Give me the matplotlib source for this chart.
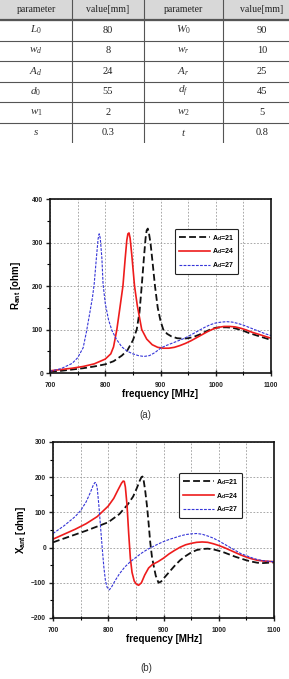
import matplotlib
matplotlib.use('Agg')
import matplotlib.pyplot as plt
from matplotlib.ticker import MultipleLocator

plt.rcParams['font.family'] = ['Liberation Sans', 'DejaVu Sans']
plt.rcParams['mathtext.fontset'] = 'custom'
plt.rcParams['mathtext.rm'] = 'Liberation Serif'
plt.rcParams['mathtext.it'] = 'Liberation Serif:italic'
plt.rcParams['mathtext.bf'] = 'Liberation Sans:bold'

# --- table data ---
header = ['parameter', 'value[mm]', 'parameter', 'value[mm]']
params_left = [r'$L_0$', r'$w_d$', r'$A_d$', r'$d_0$', r'$w_1$', r'$s$']
values_left = ['80', '8', '24', '55', '2', '0.3']
params_right = [r'$W_0$', r'$w_r$', r'$A_r$', r'$d_f$', r'$w_2$', r'$t$']
values_right = ['90', '10', '25', '45', '5', '0.8']

# --- (a) resistance ---
f_r21 = [700, 720, 740, 760, 780, 800, 815, 830, 840, 850, 857, 862, 866, 870, 873, 875, 877,
         879, 882, 886, 890, 895, 900, 905, 912, 920, 930, 940, 950, 960, 970, 980, 990, 1000,
         1010, 1020, 1030, 1040, 1050, 1060, 1070, 1080, 1090, 1100]
r21 = [3, 5, 8, 11, 15, 20, 27, 40, 52, 75, 100, 140, 200, 265, 310, 328, 332,
       322, 298, 250, 200, 150, 120, 100, 90, 84, 80, 79, 80, 83, 88, 94, 100, 104,
       105, 105, 104, 101, 97, 92, 88, 84, 80, 76]

f_r24 = [700, 720, 740, 760, 780, 800, 810, 815, 821, 826, 832, 836, 839, 841, 843, 845, 848,
         853, 858, 866, 875, 885, 895, 905, 915, 925, 935, 945, 955, 965, 975, 985, 995, 1005,
         1015, 1025, 1035, 1045, 1055, 1065, 1075, 1085, 1095, 1100]
r24 = [5, 8, 11, 15, 21, 32, 44, 60, 100, 145, 200, 262, 305, 320, 322, 310, 272,
       200, 155, 100, 78, 65, 59, 57, 57, 59, 63, 68, 74, 81, 88, 95, 101, 105,
       107, 107, 106, 103, 99, 94, 90, 86, 82, 80]

f_r27 = [700, 720, 740, 750, 760, 766, 772, 777, 780, 784, 787, 789, 791, 794, 796, 800, 806,
         812, 820, 830, 840, 850, 860, 870, 880, 890, 900, 910, 920, 930, 940, 950, 960, 970,
         980, 990, 1000, 1010, 1020, 1030, 1040, 1050, 1060, 1070, 1080, 1090, 1100]
r27 = [4, 10, 22, 35, 58, 95, 138, 175, 205, 265, 308, 320, 310, 262, 205, 160, 122,
       98, 78, 60, 50, 44, 40, 38, 40, 47, 57, 63, 68, 73, 78, 84, 91, 98,
       105, 111, 115, 117, 118, 117, 114, 110, 105, 100, 95, 90, 86]

# --- (b) reactance ---
f_x21 = [700, 720, 740, 760, 780, 800, 820, 835, 845, 852, 857, 860, 862, 864, 867, 870, 873,
         876, 879, 882, 886, 891, 896, 900, 910, 920, 930, 940, 950, 960, 970, 980, 990, 1000,
         1010, 1020, 1030, 1040, 1050, 1060, 1070, 1080, 1090, 1100]
x21 = [15, 26, 37, 48, 60, 72, 95, 122, 145, 170, 190, 200, 202, 192, 160, 120, 70,
       15, -25, -50, -80, -100, -96, -88, -70, -52, -36, -24, -14, -7, -4, -3, -5, -9,
       -14, -20, -26, -31, -36, -40, -43, -44, -43, -42]

f_x24 = [700, 720, 740, 760, 780, 800, 810, 818, 824, 827, 829, 831, 834, 837, 840, 843, 847,
         851, 855, 860, 866, 873, 880, 890, 900, 910, 920, 930, 940, 950, 960, 970, 980, 990,
         1000, 1010, 1020, 1030, 1040, 1050, 1060, 1070, 1080, 1090, 1100]
x24 = [24, 38, 52, 68, 88, 118, 140, 165, 183, 189, 188, 172, 120, 40, -30, -70, -95,
       -104, -107, -100, -78, -58, -48, -40, -30, -18, -8, 1, 8, 12, 15, 16, 15, 11,
       6, 0, -7, -14, -21, -27, -32, -36, -38, -39, -40]

f_x27 = [700, 720, 740, 750, 760, 768, 773, 776, 778, 780, 783, 786, 789, 792, 795, 798, 802,
         806, 812, 820, 830, 840, 850, 860, 870, 880, 890, 900, 910, 920, 930, 940, 950, 960,
         970, 980, 990, 1000, 1010, 1020, 1030, 1040, 1050, 1060, 1070, 1080, 1090, 1100]
x27 = [40, 62, 88, 105, 130, 158, 178, 185, 184, 170, 120, 60, 0, -55, -95, -113, -120,
       -112, -95, -75, -55, -40, -28, -16, -6, 2, 10, 17, 23, 28, 33, 37, 39, 40,
       38, 33, 27, 19, 10, 1, -8, -17, -23, -29, -34, -37, -39, -40]

labels = [r'A$_\mathbf{d}$=21', r'A$_\mathbf{d}$=24', r'A$_\mathbf{d}$=27']
styles = [dict(color='#111111', lw=1.3, ls=(0, (3.8, 1.8))),
          dict(color='#ee1c1c', lw=1.2, ls='-'),
          dict(color='#3535d8', lw=0.8, ls=(0, (2.5, 1.2)))]

W, H = 289, 679
fig = plt.figure(figsize=(W / 100, H / 100), dpi=100)

# ---- table ----
tab = fig.add_axes([0, 1 - 143 / H, 1, 143 / H])
tab.set_xlim(0, W)
tab.set_ylim(143, 0)
tab.axis('off')
col_edges = [0, 72, 144, 223, W]
row_edges = [0, 20, 40.5, 61, 81.5, 102, 122.5, 143]
tab.axhspan(0, 20, color='#d8d8d8', zorder=0)
for y in row_edges[1:-1]:
    tab.axhline(y, color='#555555', lw=1.6 if y == 20 else 0.8)
for x in col_edges[1:-1]:
    tab.axvline(x, color='#555555', lw=0.8)
cx = [(col_edges[i] + col_edges[i + 1]) / 2 for i in range(4)]
cx[3] = 262
for i, h in enumerate(header):
    tab.text(cx[i], 10, h, ha='center', va='center', fontsize=7,
             family='Liberation Serif', color='#222222')
for r in range(6):
    yc = (row_edges[r + 1] + row_edges[r + 2]) / 2
    row = [params_left[r], values_left[r], params_right[r], values_right[r]]
    for i, t in enumerate(row):
        tab.text(cx[i], yc, t, ha='center', va='center', fontsize=8 if i % 2 == 0 else 7.5,
                 family='Liberation Serif', color='#333333' if i % 2 == 0 else '#222222')


def style_axes(ax, ylim, ymaj, ymin):
    ax.set_xlim(700, 1100)
    ax.set_ylim(*ylim)
    ax.xaxis.set_major_locator(MultipleLocator(100))
    ax.xaxis.set_minor_locator(MultipleLocator(50))
    ax.yaxis.set_major_locator(MultipleLocator(ymaj))
    ax.yaxis.set_minor_locator(MultipleLocator(ymin))
    ax.tick_params(axis='x', which='major', direction='inout', length=5, width=1, pad=4,
                   labelsize=4.8, colors='#222222')
    ax.tick_params(axis='x', which='minor', direction='inout', length=3, width=0.8)
    ax.tick_params(axis='y', which='major', direction='out', length=3, width=1, pad=2,
                   labelsize=4.8, colors='#222222')
    ax.tick_params(axis='y', which='minor', direction='out', length=2, width=0.8)
    for lab in ax.get_xticklabels() + ax.get_yticklabels():
        lab.set_fontweight('bold')
    for sp in ax.spines.values():
        sp.set_linewidth(1.2)
        sp.set_color('#111111')
    ax.grid(which='major', color='#9a9a9a', ls=(0, (2, 2)), lw=0.6)
    ax.xaxis.grid(which='minor', color='#9a9a9a', ls=(0, (2, 2)), lw=0.6)
    ax.set_axisbelow(True)
    ax.set_xlabel('frequency [MHz]', fontsize=7, fontweight='bold', labelpad=0)


legend_kw = dict(loc='upper left', prop={'weight': 'bold', 'size': 5}, handlelength=4.4,
                 handletextpad=0.3, borderpad=0.6, labelspacing=0.55, fancybox=True,
                 framealpha=1, edgecolor='#222222')

# ---- (a) ----
ax1 = fig.add_axes([50 / W, 1 - 373 / H, 221 / W, 174 / H])
for f, v, lab, st in zip([f_r21, f_r24, f_r27], [r21, r24, r27], labels, styles):
    ax1.plot(f, v, label=lab, **st)
style_axes(ax1, (0, 400), 100, 50)
ax1.set_ylabel(r'R$_\mathbf{ant}$ [ohm]', fontsize=7, fontweight='bold', labelpad=6)
leg1 = ax1.legend(bbox_to_anchor=(0.55, 0.85), **legend_kw)
leg1.get_frame().set_linewidth(0.8)
fig.text(145 / W, 1 - 415 / H, '(a)', ha='center', va='center', fontsize=7, color='#333333')

# ---- (b) ----
ax2 = fig.add_axes([53 / W, 1 - 618 / H, 221 / W, 176 / H])
for f, v, lab, st in zip([f_x21, f_x24, f_x27], [x21, x24, x27], labels, styles):
    ax2.plot(f, v, label=lab, **st)
style_axes(ax2, (-200, 300), 100, 50)
ax2.set_ylabel(r'X$_\mathbf{ant}$ [ohm]', fontsize=7, fontweight='bold', labelpad=2)
leg2 = ax2.legend(bbox_to_anchor=(0.555, 0.845), **legend_kw)
leg2.get_frame().set_linewidth(0.8)
fig.text(146 / W, 1 - 668 / H, '(b)', ha='center', va='center', fontsize=7, color='#333333')

fig.savefig('out.png', dpi=100)
